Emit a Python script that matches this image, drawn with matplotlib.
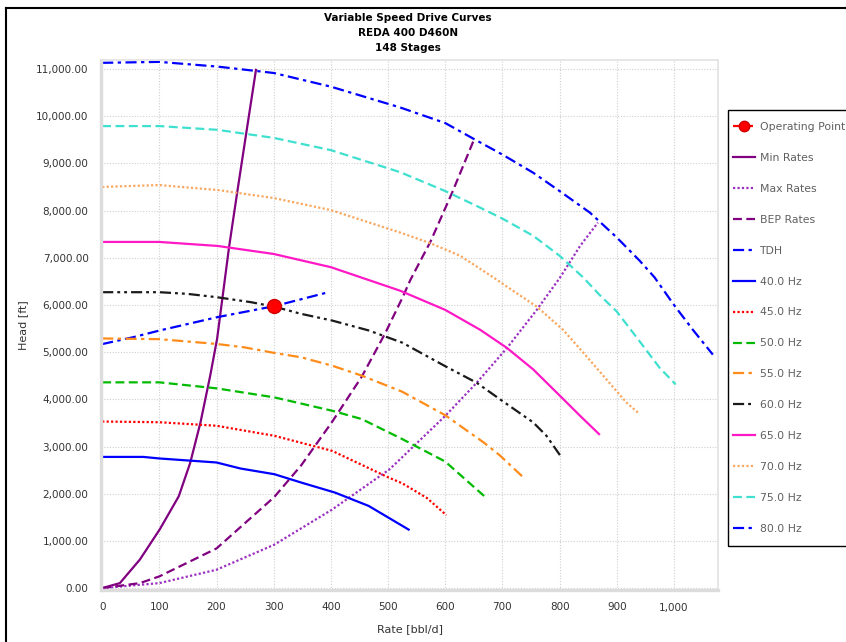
import numpy as np
import matplotlib
matplotlib.use('Agg')
import matplotlib.pyplot as plt
from matplotlib.lines import Line2D
from matplotlib.patches import Rectangle
from matplotlib.ticker import FuncFormatter, MultipleLocator

## 펌프 운전 곡선 데이터 (Rate [bbl/d], Head [ft])
op_rate = [300]
op_head = [5970]

min_rate = [0, 31, 66, 101, 134, 154, 172, 189, 201, 212, 222, 236, 252, 269]
min_head = [0, 106, 605, 1250, 1946, 2654, 3511, 4502, 5280, 6300, 7230, 8370, 9640, 10980]

max_rate = [0, 100, 200, 301, 402, 502, 521, 600, 655, 708, 760, 801, 836, 867]
max_head = [0, 106, 389, 920, 1663, 2512, 2730, 3649, 4351, 5088, 5895, 6585, 7253, 7745]

bep_rate = [0, 66, 100, 200, 301, 348, 402, 454, 495, 525, 539, 574, 612, 651]
bep_head = [0, 106, 248, 840, 1930, 2600, 3520, 4480, 5400, 6150, 6530, 7337, 8378, 9524]

tdh_rate = [0, 54, 100, 201, 301, 396]
tdh_head = [5170, 5316, 5457, 5740, 5974, 6271]

hz_labels = ['40.0 Hz', '45.0 Hz', '50.0 Hz', '55.0 Hz', '60.0 Hz',
             '65.0 Hz', '70.0 Hz', '75.0 Hz', '80.0 Hz']

hz_rates = [
    [0, 72, 100, 200, 242, 301, 348, 407, 466, 536],
    [0, 100, 200, 301, 402, 501, 525, 568, 602],
    [0, 100, 200, 301, 402, 454, 525, 600, 670],
    [0, 100, 200, 248, 301, 348, 402, 454, 525, 600, 667, 696, 738],
    [0, 100, 148, 200, 260, 300, 348, 402, 466, 525, 600, 655, 700, 754, 777, 802],
    [0, 100, 202, 300, 400, 521, 600, 661, 708, 754, 801, 836, 869],
    [0, 100, 202, 300, 400, 521, 574, 626, 684, 708, 760, 806, 847, 882, 917, 937],
    [0, 100, 202, 300, 400, 521, 600, 655, 700, 754, 800, 841, 870, 900, 940, 975, 1003],
    [0, 100, 202, 300, 400, 521, 600, 649, 700, 754, 800, 853, 900, 940, 966, 1000, 1033, 1068],
]
hz_heads = [
    [2780, 2780, 2747, 2662, 2534, 2414, 2237, 2025, 1742, 1240],
    [3530, 3515, 3440, 3228, 2909, 2343, 2220, 1909, 1545],
    [4360, 4360, 4233, 4042, 3759, 3582, 3157, 2681, 1930],
    [5290, 5275, 5174, 5103, 4983, 4891, 4714, 4502, 4160, 3663, 3088, 2807, 2330],
    [6270, 6270, 6236, 6165, 6059, 5967, 5811, 5670, 5460, 5200, 4702, 4351, 3965, 3509, 3228, 2793],
    [7335, 7335, 7250, 7080, 6800, 6302, 5895, 5474, 5088, 4632, 4070, 3649, 3263],
    [8500, 8540, 8435, 8265, 8010, 7534, 7309, 7042, 6585, 6386, 5965, 5474, 4912, 4421, 3930, 3720],
    [9790, 9790, 9710, 9540, 9280, 8814, 8413, 8097, 7830, 7464, 7042, 6585, 6211, 5860, 5228, 4667, 4316],
    [11130, 11150, 11050, 10915, 10625, 10185, 9854, 9524, 9186, 8800, 8413, 7956, 7429, 6937, 6585, 6000, 5474, 4947],
]

# 색상 / 선 스타일
dashdot = (0, (5, 2, 1.5, 2))
dashdotdot = (0, (5, 1.8, 1.3, 1.8, 1.3, 1.8))
hz_colors = ['#0000FF', '#FF0000', '#00BB00', '#FF8C1A', '#1A1A1A',
             '#FF19C6', '#F8A860', '#40E0D0', '#0000FF']
hz_styles = ['-', (0, (1, 1)), (0, (4, 2)), dashdot, dashdotdot,
             '-', (0, (1, 1)), (0, (4, 2)), dashdot]

plt.rcParams['font.family'] = 'DejaVu Sans'

fig = plt.figure(figsize=(8.46, 6.42), dpi=100)
ax = fig.add_axes([101/846, 1-590/642, 617/846, 530/642])

lw = 1.6
ax.plot(op_rate, op_head, color='#FF0000', linestyle='--', marker='o',
        markersize=10, markeredgecolor='#D00000', linewidth=lw,
        label='Operating Point', zorder=10)
ax.plot(min_rate, min_head, color='#800080', linestyle='-', linewidth=lw,
        label='Min Rates')
ax.plot(max_rate, max_head, color='#9B30C0', linestyle=(0, (1, 1)),
        linewidth=lw, label='Max Rates')
ax.plot(bep_rate, bep_head, color='#800080', linestyle=(0, (4, 2)),
        linewidth=lw, label='BEP Rates')
ax.plot(tdh_rate, tdh_head, color='#0000FF', linestyle=dashdot,
        linewidth=lw, label='TDH')

for r, h, c, s, lab in zip(hz_rates, hz_heads, hz_colors, hz_styles, hz_labels):
    ax.plot(r, h, color=c, linestyle=s, linewidth=lw, label=lab)

ax.set_xlim(-2, 1077)
ax.set_ylim(-40, 11190)
ax.xaxis.set_major_locator(MultipleLocator(100))
ax.yaxis.set_major_locator(MultipleLocator(1000))
ax.xaxis.set_major_formatter(FuncFormatter(lambda v, p: '{:,.0f}'.format(v)))
ax.yaxis.set_major_formatter(FuncFormatter(lambda v, p: '{:,.2f}'.format(v)))
ax.tick_params(length=0, labelsize=7.5, labelcolor='#333333', pad=9)

ax.grid(True, color='#CFCFCF', linestyle=(0, (1, 1.5)), linewidth=0.8)
ax.set_axisbelow(True)
for side in ['left', 'bottom']:
    ax.spines[side].set_color('#DCDCDC')
    ax.spines[side].set_linewidth(2.4)
for side in ['top', 'right']:
    ax.spines[side].set_color('#E2E2E2')
    ax.spines[side].set_linewidth(1.2)

ax.set_xlabel('Rate [bbl/d]', fontsize=8, color='#333333', labelpad=8)
ax.set_ylabel('Head [ft]', fontsize=8, color='#333333', labelpad=6)

for i, line in enumerate(['Variable Speed Drive Curves', 'REDA 400 D460N', '148 Stages']):
    fig.text(408/846, 1-(18+15*i)/642, line, ha='center', va='center',
             fontsize=7.5, fontweight='bold')

# 범례 (테두리는 따로 그림)
leg = fig.legend(loc='upper left', bbox_to_anchor=(733/846, 1-122/642),
                 fontsize=7.8, labelcolor='#606060', frameon=False,
                 handlelength=2.0, handletextpad=0.45, labelspacing=1.93,
                 borderpad=0, borderaxespad=0, markerscale=0.75)
fig.add_artist(Rectangle((728/846, 1-546/642), 130/846, 436/642,
                         transform=fig.transFigure, fill=False,
                         edgecolor='black', linewidth=1.0))

# 바깥 테두리
fig.add_artist(Line2D([6/846, 1], [1-8/642, 1-8/642], color='black',
                      linewidth=1.5, transform=fig.transFigure))
fig.add_artist(Line2D([6/846, 6/846], [0, 1-8/642], color='black',
                      linewidth=1.5, transform=fig.transFigure))

fig.savefig('out.png', dpi=100)
